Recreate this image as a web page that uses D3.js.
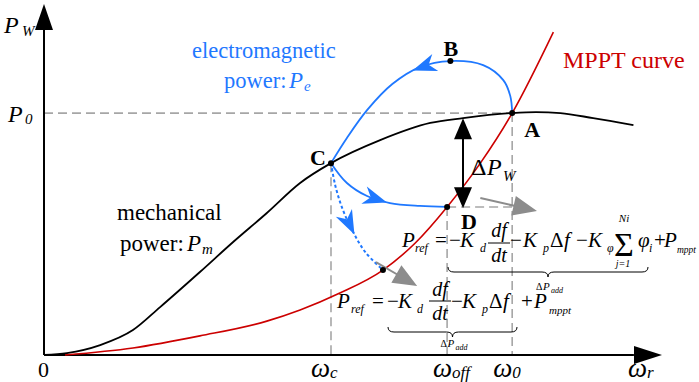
<!DOCTYPE html>
<html lang="en">
<head>
<meta charset="utf-8">
<title>MPPT curve and power paths</title>
<script src="https://d3js.org/d3.v7.min.js"></script>
<style>
body{margin:0;background:#fff;}
svg{display:block;font-family:"Liberation Serif","Times New Roman",serif;}
text{white-space:pre;}
</style>
</head>
<body>
<div id="chart"></div>
<script>
// speed in per unit of w0, power in per unit of P0
var mechanicalCurve = [[0,0],[0.049,0.008],[0.120,0.041],[0.190,0.103],[0.248,0.198],[0.333,0.343],
    [0.404,0.467],[0.476,0.587],[0.547,0.711],[0.613,0.793],[0.718,0.888],[0.825,0.959],
    [0.895,0.979],[1.0,1.0],[1.051,1.004],[1.103,1.0],[1.173,0.979],[1.259,0.950]]
var mpptCurve = [[0.045,0],[0.190,0.029],[0.333,0.079],[0.476,0.140],[0.547,0.186],[0.632,0.256],
    [0.724,0.351],[0.793,0.463],[0.861,0.612],[0.932,0.793],[1.0,1.0],[1.088,1.335]]
var pathUp = [[1.0,1.0],[0.996,1.070],[0.981,1.136],[0.938,1.198],[0.868,1.215],[0.803,1.190],
    [0.744,1.120],[0.690,1.012],[0.647,0.897],[0.613,0.793]]
var pathDown = [[0.613,0.793],[0.647,0.711],[0.690,0.657],[0.739,0.628],[0.803,0.616],[0.861,0.612]]
var pathDotted = [[0.613,0.793],[0.622,0.702],[0.637,0.607],[0.658,0.517],[0.686,0.426],[0.724,0.351]]
var pointNames = ["A","B","C","D",""]
var points = [[1.0,1.0],[0.868,1.215],[0.613,0.793],[0.861,0.612],[0.724,0.351]]
var speedNames = ["c","off","0"]
var speeds = [0.613,0.861,1.0]
var grayArrows = [[[0.709,0.384],[0.797,0.285]],[[0.932,0.649],[1.053,0.595]]]
var deltaPw = [0.895,0.979,0.607]

var w = 699, h = 382
var blue = "#1f78ff", red = "#cc0000", dash = "#a6a6a6"
var x = d3.scaleLinear().domain([0,1.32]).range([44,662])
var y = d3.scaleLinear().domain([0,1.455]).range([355,3])
var line = d3.line().x(function(d){return x(d[0])}).y(function(d){return y(d[1])})

var svg = d3.select("#chart").append("svg").attr("width",w).attr("height",h)
    .attr("font-family","'Liberation Serif','Times New Roman',serif")

function txt(px,py,str,size,opt){
    opt = opt || {}
    return svg.append("text").attr("x",px).attr("y",py).attr("font-size",size)
        .attr("font-style",opt.italic ? "italic" : null)
        .attr("font-weight",opt.bold ? "bold" : null)
        .attr("text-anchor",opt.anchor || "start")
        .attr("fill",opt.color || "#000").text(str)
}
function head(px,py,angle,len,half,color,notch){
    var d = "M0,0 L"+(-len)+","+(-half)+" L"+(-len+(notch||0))+",0 L"+(-len)+","+half+" Z"
    svg.append("path").attr("d",d).attr("fill",color)
        .attr("transform","translate("+px+","+py+") rotate("+angle+")")
}
// put an arrowhead on a path near a target point, pointing along the path
function headOnPath(path,target,color){
    var node = path.node(), L = node.getTotalLength(), best = 0, bd = 1e9
    var tx = x(target[0]), ty = y(target[1])
    for(var l=0;l<=L;l+=0.5){
        var p = node.getPointAtLength(l), dd = (p.x-tx)*(p.x-tx)+(p.y-ty)*(p.y-ty)
        if(dd<bd){bd=dd;best=l}
    }
    var a = node.getPointAtLength(Math.max(0,best-2)), b = node.getPointAtLength(Math.min(L,best+2))
    var ang = Math.atan2(b.y-a.y,b.x-a.x)*180/Math.PI
    var c = node.getPointAtLength(Math.min(L,best+11))
    head(c.x,c.y,ang,24,9,color,7)
}

// dashed guide lines
var guides = svg.append("g").attr("stroke",dash).attr("stroke-width",1.6).attr("stroke-dasharray","9,5")
guides.append("line").attr("x1",x(0)).attr("x2",x(1)).attr("y1",y(1)).attr("y2",y(1))
guides.append("line").attr("x1",x(speeds[1])).attr("x2",x(speeds[2])).attr("y1",y(points[3][1])).attr("y2",y(points[3][1]))
var speedTops = [points[2][1],points[3][1],points[0][1]]
speeds.forEach(function(s,i){
    guides.append("line").attr("x1",x(s)).attr("x2",x(s)).attr("y1",y(speedTops[i])).attr("y2",y(0))
})

// axes
svg.append("line").attr("x1",x(0)).attr("x2",x(1.26)).attr("y1",y(0)).attr("y2",y(0)).attr("stroke","#000").attr("stroke-width",2)
svg.append("line").attr("x1",x(0)).attr("x2",x(0)).attr("y1",y(0)).attr("y2",y(1.4)).attr("stroke","#000").attr("stroke-width",2)
head(x(1.32),y(0),0,28,9,"#000")
head(x(0),y(1.455)+1,-90,26,9,"#000")

// curves
svg.append("path").attr("d",line.curve(d3.curveMonotoneX)(mechanicalCurve)).attr("fill","none").attr("stroke","#000").attr("stroke-width",1.8)
svg.append("path").attr("d",line.curve(d3.curveMonotoneX)(mpptCurve)).attr("fill","none").attr("stroke",red).attr("stroke-width",1.6)
line.curve(d3.curveCatmullRom.alpha(0.5))
var up = svg.append("path").attr("d",line(pathUp)).attr("fill","none").attr("stroke",blue).attr("stroke-width",1.8)
var down = svg.append("path").attr("d",line(pathDown)).attr("fill","none").attr("stroke",blue).attr("stroke-width",1.8)
var dotted = svg.append("path").attr("d",line(pathDotted)).attr("fill","none").attr("stroke",blue).attr("stroke-width",2).attr("stroke-dasharray","3,2.5")
headOnPath(up,[0.81,1.19],blue)
headOnPath(down,[0.71,0.645],blue)
headOnPath(dotted,[0.653,0.54],blue)

// gray arrows
grayArrows.forEach(function(g){
    var x1 = x(g[0][0]), y1 = y(g[0][1]), x2 = x(g[1][0]), y2 = y(g[1][1])
    var ang = Math.atan2(y2-y1,x2-x1)
    svg.append("line").attr("x1",x1).attr("y1",y1).attr("x2",x2-18*Math.cos(ang)).attr("y2",y2-18*Math.sin(ang))
        .attr("stroke","#8c8c8c").attr("stroke-width",2)
    head(x2,y2,ang*180/Math.PI,24,10,"#8c8c8c")
})

// delta P_W double arrow
svg.append("line").attr("x1",x(deltaPw[0])).attr("x2",x(deltaPw[0])).attr("y1",y(deltaPw[1])+15).attr("y2",y(deltaPw[2])-15)
    .attr("stroke","#000").attr("stroke-width",2)
head(x(deltaPw[0]),y(deltaPw[1]),-90,21,9,"#000")
head(x(deltaPw[0]),y(deltaPw[2]),90,21,9,"#000")

// points
svg.selectAll("circle").data(points).enter().append("circle")
    .attr("cx",function(d){return x(d[0])}).attr("cy",function(d){return y(d[1])}).attr("r",3).attr("fill","#000")
var labelOff = [[12,24],[-7,-5],[-21,2],[14,22]]
pointNames.forEach(function(n,i){
    if(n) txt(x(points[i][0])+labelOff[i][0],y(points[i][1])+labelOff[i][1],n,22,{bold:true})
})

// axis labels
txt(4,33,"P",24,{italic:true}); txt(22,36,"W",15,{italic:true})
txt(8,122,"P",24,{italic:true}); txt(25,124,"0",15,{italic:true})
txt(38,377,"0",22)
var speedDx = [-20,-14,-19]
speeds.forEach(function(s,i){
    txt(x(s)+speedDx[i],377,"ω",27,{italic:true})
    txt(x(s)+speedDx[i]+19,378,speedNames[i],17,{italic:true})
})
txt(628,377,"ω",27,{italic:true}); txt(647,378,"r",17,{italic:true})

// curve captions
txt(192,58,"electromagnetic",22.5,{color:blue})
txt(224,88,"power: ",22.5,{color:blue})
txt(289,88,"P",23,{italic:true,color:blue}); txt(304,91,"e",15,{italic:true,color:blue})
txt(563,68,"MPPT curve",24,{color:red})
txt(117,220,"mechanical",23)
txt(120,251,"power: ",23)
txt(187,251,"P",23,{italic:true}); txt(202,254,"m",15,{italic:true})
txt(471,175,"Δ",24)
txt(487,175,"P",24,{italic:true})
txt(503,181,"W",15,{italic:true})

// formulas
function formula(ox,oy,parts,bar){
    parts.forEach(function(p){
        txt(ox+p[0],oy+p[1],p[2],p[3],{italic:p[4],anchor:p[5]})
    })
    svg.append("line").attr("x1",ox+bar[0]).attr("x2",ox+bar[1]).attr("y1",oy+bar[2]).attr("y2",oy+bar[2])
        .attr("stroke","#000").attr("stroke-width",1)
}
formula(402,247,[
    [0,0,"P",21,1],[13,5,"ref",12,1],[33,0,"=",21,0],[47,0,"−",21,0],[58,0,"K",21,1],[78,5,"d",12,1],
    [97,-10,"df",20,1,"middle"],[97,15,"dt",20,1,"middle"],[108,0,"−",21,0],[121,0,"K",21,1],[141,5,"p",12,1],
    [148,0,"Δ",21,0],[162,0,"f",21,1],[174,0,"−",21,0],[186,0,"K",21,1],[205,5,"φ",12,1],
    [222,9,"Σ",34,0,"middle"],[222,-25,"Ni",11,1,"middle"],[221,20,"j=1",10,1,"middle"],
    [236,0,"φ",21,1],[247,5,"i",12,1],[252,0,"+",21,0],[262,0,"P",21,1],[275,6,"mppt",9.5,1]
],[86,108,-4])
formula(337,308,[
    [0,0,"P",21,1],[14,5,"ref",12,1],[35,0,"=",21,0],[50,0,"−",21,0],[61,0,"K",21,1],[80,5,"d",12,1],
    [103,-12,"df",20,1,"middle"],[103,12,"dt",20,1,"middle"],[114,0,"−",21,0],[125,0,"K",21,1],[145,5,"p",12,1],
    [152,0,"Δ",21,0],[166,0,"f",21,1],[184,0,"+",21,0],[197,0,"P",21,1],[212,6,"mppt",11,1]
],[92,114,-7])

// underbraces with delta P_add
function brace(x1,x2,yt,label){
    var cx = (x1+x2)/2, yl = yt+5, yc = yt+10
    var d = "M"+x1+","+yt+" Q"+x1+","+yl+" "+(x1+6)+","+yl+" L"+(cx-6)+","+yl+" Q"+cx+","+yl+" "+cx+","+yc+
        " Q"+cx+","+yl+" "+(cx+6)+","+yl+" L"+(x2-6)+","+yl+" Q"+x2+","+yl+" "+x2+","+yt
    svg.append("path").attr("d",d).attr("fill","none").attr("stroke","#000").attr("stroke-width",1)
    txt(cx-12,label,"Δ",10)
    txt(cx-5,label,"P",11,{italic:true})
    txt(cx+3,label+3,"add",8,{italic:true})
}
brace(448,648,267,290)
brace(388,517,327,347)
</script>
</body>
</html>
